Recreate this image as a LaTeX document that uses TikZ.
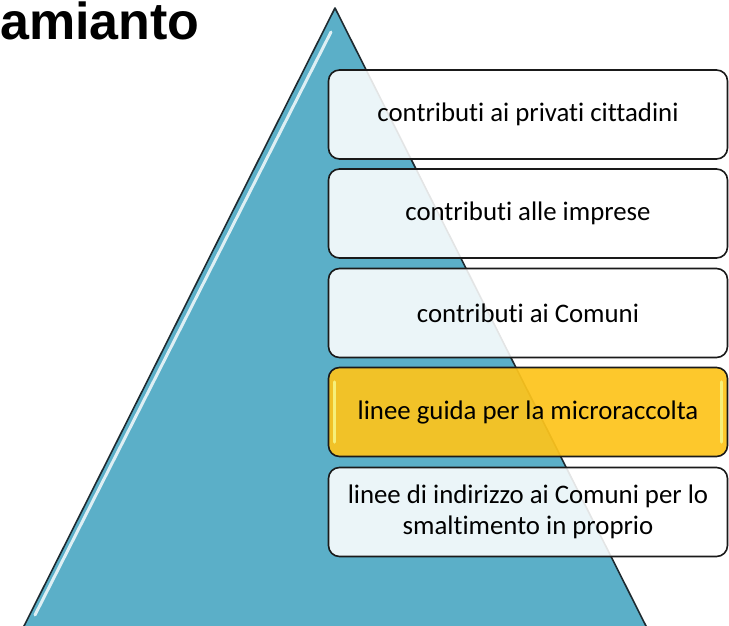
\documentclass[tikz,border=0pt]{standalone}
\usepackage{fontspec}
\setmainfont[Ligatures=NoCommon]{Carlito}
\newfontfamily\titlefont{Liberation Sans}
\definecolor{triblue}{HTML}{5BAFC8}
\definecolor{triline}{HTML}{1E2A30}
\definecolor{boxline}{HTML}{1A1A1A}
\definecolor{yel}{HTML}{FDC41C}
\definecolor{yelhi}{HTML}{F6F07A}
\tikzset{
  pbox/.style={draw=boxline, line width=1.6pt, rounded corners=11pt, fill=white, fill opacity=0.88, text opacity=1,
    minimum width=399pt, minimum height=89pt, align=center, font=\fontsize{26.8}{31}\selectfont, text=black},
  ybox/.style={pbox, fill=yel, fill opacity=0.93},
  hiline/.style={line width=3pt, white, opacity=0.8, line cap=round},
  yhi/.style={line width=3.5pt, yelhi, line cap=round}
}
\begin{document}
\begin{tikzpicture}[x=1pt,y=-1pt]
\useasboundingbox (0,0) rectangle (729,626);
\begin{scope}
\clip (0,0) rectangle (729,626);
\filldraw[fill=triblue, draw=triline, line width=1.6pt, line join=round] (335,8) -- (648,630) -- (22,630) -- cycle;
\coordinate (h1) at (331,32);
\coordinate (h2) at (35,615);
\draw[hiline] (h1) -- (h2);
\end{scope}
\node[anchor=base west, inner sep=0pt, font=\titlefont\bfseries\fontsize{52}{52}\selectfont] (title) at (0,40) {amianto};
\node[pbox] (b1) at (528,114.5) {contributi ai privati cittadini};
\node[pbox] (b2) at (528,213.5) {contributi alle imprese};
\node[pbox] (b3) at (528,313) {contributi ai Comuni};
\node[ybox] (b4) at (528,412) {linee guida per la microraccolta};
\draw[yhi] ([shift={(7pt,-30pt)}]b4.west) -- ([shift={(7pt,30pt)}]b4.west);
\draw[yhi] ([shift={(-7pt,-30pt)}]b4.east) -- ([shift={(-7pt,30pt)}]b4.east);
\node[pbox] (b5) at (528,512) {linee di indirizzo ai Comuni per lo\\smaltimento in proprio};
\end{tikzpicture}
\end{document}
